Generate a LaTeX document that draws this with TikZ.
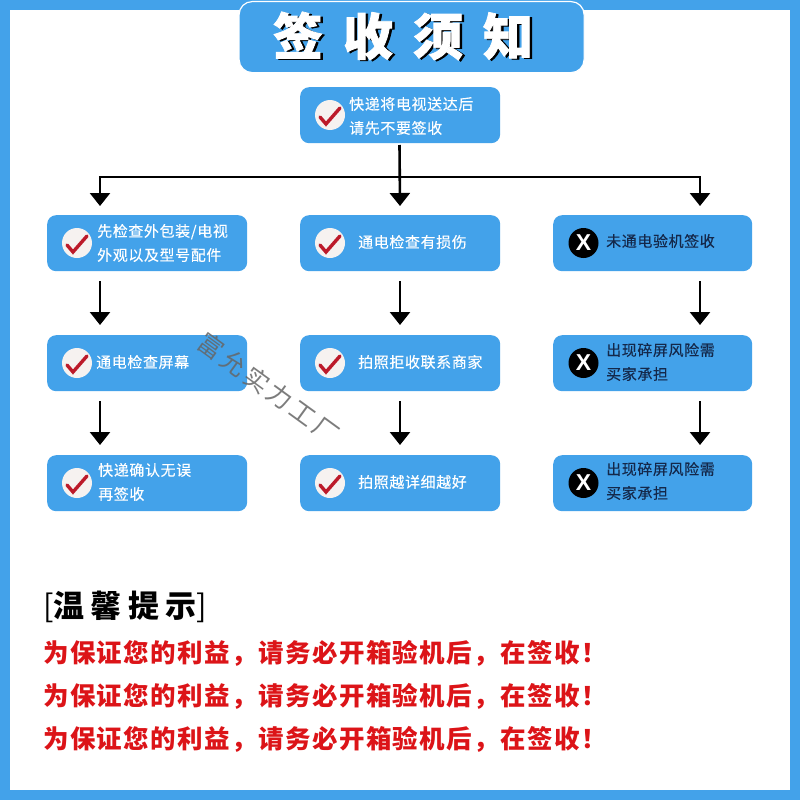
\documentclass[tikz,border=0pt]{standalone}
\usepackage{fontspec}
\usetikzlibrary{arrows.meta,calc}
\newfontfamily\cjkspaced[LetterSpace=4,FakeBold=0.25]{Noto Sans CJK SC}
\newfontfamily\cjkred[LetterSpace=5.5]{Noto Sans CJK SC}
\newfontfamily\cjkhead[LetterSpace=20]{Noto Sans CJK SC}
\newfontfamily\cjktitle[LetterSpace=40,BoldFeatures={FakeBold=1.6}]{Noto Sans CJK SC}
\newfontfamily\cjkmark[LetterSpace=14]{Noto Sans CJK SC}
\newfontfamily\latinbold{Liberation Sans}
\definecolor{skyb}{HTML}{43A2EA}
\definecolor{checkred}{HTML}{BC1A2A}
\definecolor{warnred}{HTML}{DC1418}
\definecolor{navy}{HTML}{14284A}
\definecolor{disc}{HTML}{F6F2F0}
\tikzset{
  x=1pt,y=-1pt,
  stepbox/.style={fill=skyb,rounded corners=9pt,minimum width=200pt,minimum height=56pt,inner sep=0pt,anchor=north west},
  flow/.style={line width=2.6pt,-{Triangle[width=20pt,length=13pt]}},
  rail/.style={line width=2.4pt},
  whitetext/.style={text=white,font=\fontsize{15}{24}\selectfont\cjkspaced,anchor=west,align=left,inner sep=0pt},
  darktext/.style={text=navy,font=\fontsize{15}{24}\selectfont\cjkspaced,anchor=west,align=left,inner sep=0pt},
  redtext/.style={text=warnred,font=\fontsize{25.5}{25}\selectfont\cjkred\bfseries,anchor=west,inner sep=0pt},
  okdisc/.style={circle,fill=disc,minimum size=30pt,inner sep=0pt},
  nodisc/.style={circle,fill=black,minimum size=30pt,inner sep=0pt,text=white,font=\fontsize{23}{23}\selectfont\latinbold\bfseries},
  tick/.style={draw=checkred,line width=3.4pt,line cap=round,line join=miter}
}
\begin{document}
\begin{tikzpicture}
\useasboundingbox (0,0) rectangle (800,800);
% frame
\fill[skyb] (0,0) rectangle (800,800);
\fill[white] (10,10) rectangle (790,790);
% title
\node[draw=white,line width=1.2pt,fill=skyb,rounded corners=13pt,minimum width=345pt,minimum height=71pt,inner sep=0pt,anchor=north west] (title) at (238.5,1) {};
\node[text=black,font=\fontsize{50}{50}\selectfont\cjktitle\bfseries,inner sep=0pt] (titleshadow) at (405.5,37) {签收须知};
\node[text=white,font=\fontsize{50}{50}\selectfont\cjktitle\bfseries,inner sep=0pt] (titletext) at (403,36) {签收须知};

% boxes
\node[stepbox] (top) at (300,87) {};
\node[stepbox] (a1) at (47,215) {};
\node[stepbox] (a2) at (47,335) {};
\node[stepbox] (a3) at (47,455) {};
\node[stepbox] (b1) at (300,215) {};
\node[stepbox] (b2) at (300,335) {};
\node[stepbox] (b3) at (300,455) {};
\node[stepbox,minimum width=199pt] (c1) at (553,215) {};
\node[stepbox,minimum width=199pt] (c2) at (553,335) {};
\node[stepbox,minimum width=199pt] (c3) at (553,455) {};

% discs with check marks
\foreach \n/\cx/\cy in {top/330/115,a1/77/243,a2/77/363,a3/77/483,b1/330/243,b2/330/363,b3/330/483}{
  \node[okdisc] (disc\n) at (\cx,\cy) {};
  \draw[tick] ([shift={(-10pt,-2pt)}]disc\n.center) -- ([shift={(-4pt,-9pt)}]disc\n.center) -- ([shift={(10pt,7pt)}]disc\n.center);
}
\node[nodisc] (discc1) at (583.5,243) {X};
\node[nodisc] (discc2) at (583.5,363) {X};
\node[nodisc] (discc3) at (583.5,483) {X};

% texts
\node[whitetext] (ttop) at (349,116) {快递将电视送达后\\请先不要签收};
\node[whitetext] (ta1) at (97,243) {先检查外包装/电视\\外观以及型号配件};
\node[whitetext] (ta2) at (96,362) {通电检查屏幕};
\node[whitetext] (ta3) at (98,482) {快递确认无误\\再签收};
\node[whitetext] (tb1) at (358,242) {通电检查有损伤};
\node[whitetext] (tb2) at (358,362) {拍照拒收联系商家};
\node[whitetext] (tb3) at (358,482) {拍照越详细越好};
\node[darktext] (tc1) at (606,241) {未通电验机签收};
\node[darktext] (tc2) at (606,362) {出现碎屏风险需\\买家承担};
\node[darktext] (tc3) at (606,481) {出现碎屏风险需\\买家承担};

% connectors
\coordinate (railL) at (100,177);
\coordinate (railM) at (400,177);
\coordinate (railR) at (700,177);
\coordinate (topout) at (399.5,145);
\coordinate (headL) at (100,206);
\coordinate (headM) at (400,206);
\coordinate (headR) at (700,206);
\draw[rail] ([xshift=-1.2pt]railL) -- ([xshift=1.2pt]railR);
\draw[flow] (topout) -- (headM);
\draw[flow] (railL) -- (headL);
\draw[flow] (railR) -- (headR);
\foreach \u/\v/\xx in {a1/a2/100,a2/a3/100,b1/b2/400,b2/b3/400,c1/c2/700,c2/c3/700}{
  \draw[flow] ($(\u.south -| \xx,0)+(0,10)$) -- ($(\v.north -| \xx,0)+(0,-10)$);
}

% watermark
\node[text=black!60,opacity=.85,rotate=-36,font=\fontsize{25}{25}\selectfont\cjkmark,inner sep=0pt] (mark) at (269,388) {富允实力工厂};

% notes
\node[text=black,font=\fontsize{31}{31}\selectfont\cjkhead\bfseries,anchor=west,inner sep=0pt] (tip) at (43,607) {{\mdseries[}温馨提示{\mdseries]}};
\node[redtext] (r1) at (43,653) {为保证您的利益，请务必开箱验机后，在签收！};
\node[redtext] (r2) at (43,696) {为保证您的利益，请务必开箱验机后，在签收！};
\node[redtext] (r3) at (43,739) {为保证您的利益，请务必开箱验机后，在签收！};
\end{tikzpicture}
\end{document}
